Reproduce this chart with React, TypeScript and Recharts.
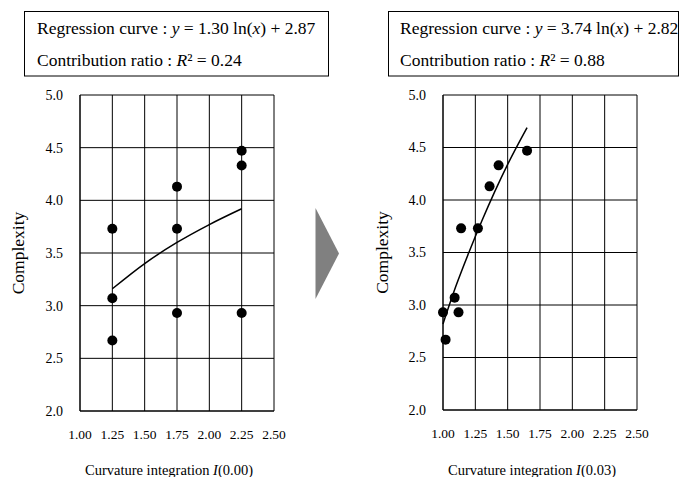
import React from "react";
import { ScatterChart, Scatter, XAxis, YAxis, CartesianGrid } from "recharts";

// left panel: I(0.00)
const leftX = [1.25, 1.25, 1.25, 1.75, 1.75, 1.75, 2.25, 2.25, 2.25];
const leftY = [3.73, 3.07, 2.67, 4.13, 3.73, 2.93, 4.47, 4.33, 2.93];
const leftCurveX = [1.25, 1.5, 1.75, 2.0, 2.25];
const leftCurveY = [3.16, 3.4, 3.6, 3.77, 3.92];

// right panel: I(0.03)
const rightX = [1.0, 1.02, 1.09, 1.12, 1.14, 1.27, 1.36, 1.43, 1.65];
const rightY = [2.93, 2.67, 3.07, 2.93, 3.73, 3.73, 4.13, 4.33, 4.47];
const rightCurveX = [1.0, 1.1, 1.2, 1.3, 1.4, 1.5, 1.65];
const rightCurveY = [2.82, 3.18, 3.5, 3.8, 4.08, 4.34, 4.69];

const xTicks = [1.0, 1.25, 1.5, 1.75, 2.0, 2.25, 2.5];
const yTicks = [2.0, 2.5, 3.0, 3.5, 4.0, 4.5, 5.0];

const FONT = "'Liberation Serif', 'Times New Roman', serif";

const zip = (xs: number[], ys: number[]) => xs.map((x, i) => ({ x, y: ys[i] }));

const Dot = (p: any) => <circle cx={p.cx} cy={p.cy} r={5} fill="#000" />;
const NoDot = () => <g />;

const YLabel = ({ viewBox, lx }: any) => {
  const cy = viewBox.y + viewBox.height / 2;
  return (
    <text x={lx} y={cy} transform={`rotate(-90 ${lx} ${cy})`} textAnchor="middle"
      dominantBaseline="central" fontSize={17.5} fontFamily={FONT} fill="#000">
      Complexity
    </text>
  );
};

const XLabel = ({ viewBox, param }: any) => {
  const cx = viewBox.x + viewBox.width / 2 - 8;
  return (
    <text x={cx} y={475} textAnchor="middle" fontSize={14.5} fontFamily={FONT} fill="#000">
      Curvature integration <tspan fontStyle="italic">I</tspan>({param})
    </text>
  );
};

function Panel({ points, curve, param, right, yWidth, xHeight, labelX }: any) {
  return (
    <ScatterChart width={340} height={477} margin={{ top: 95, right, left: 0, bottom: 0 }}>
      <CartesianGrid stroke="#000" strokeWidth={1} />
      <XAxis type="number" dataKey="x" domain={[1, 2.5]} ticks={xTicks} height={xHeight}
        tickFormatter={(v: number) => v.toFixed(2)} tickLine={false} tickSize={0} tickMargin={18}
        axisLine={{ stroke: "#000" }} interval={0}
        tick={{ fill: "#000", fontSize: 13.5, fontFamily: FONT }}
        label={<XLabel param={param} />} />
      <YAxis type="number" dataKey="y" domain={[2, 5]} ticks={yTicks} width={yWidth}
        tickFormatter={(v: number) => v.toFixed(1)} tickLine={false} tickSize={0} tickMargin={17}
        axisLine={{ stroke: "#000" }} interval={0}
        tick={{ fill: "#000", fontSize: 14, fontFamily: FONT }}
        label={<YLabel lx={labelX} />} />
      <Scatter data={points} shape={Dot} isAnimationActive={false} />
      <Scatter data={curve} shape={NoDot} line={{ stroke: "#000", strokeWidth: 1.5 }}
        lineJointType="monotoneX" isAnimationActive={false} />
    </ScatterChart>
  );
}

export default function App() {
  return (
    <div style={{ position: "absolute", left: 0, top: 0, width: 680, height: 477, background: "#fff", fontFamily: FONT }}>
      <div style={{ position: "absolute", left: 0, top: 0 }}>
        <Panel points={zip(leftX, leftY)} curve={zip(leftCurveX, leftCurveY)} param="0.00"
          right={66} yWidth={80} xHeight={66} labelX={18} />
      </div>
      <div style={{ position: "absolute", left: 340, top: 0 }}>
        <Panel points={zip(rightX, rightY)} curve={zip(rightCurveX, rightCurveY)} param="0.03"
          right={43} yWidth={103} xHeight={67} labelX={42} />
      </div>
      <svg width={680} height={477} style={{ position: "absolute", left: 0, top: 0, pointerEvents: "none" }}>
        <rect x={24.5} y={11.5} width={304} height={64.5} fill="none" stroke="#000" />
        <text x={37} y={34} fontSize={17.5} fontFamily={FONT} fill="#000">
          Regression curve : <tspan fontStyle="italic">y</tspan> = 1.30 ln(<tspan fontStyle="italic">x</tspan>) + 2.87
        </text>
        <text x={37} y={65.5} fontSize={17.5} fontFamily={FONT} fill="#000">
          Contribution ratio : <tspan fontStyle="italic">R</tspan>² = 0.24
        </text>
        <rect x={388.5} y={11.5} width={290} height={64.5} fill="none" stroke="#000" />
        <text x={400} y={34} fontSize={17.5} fontFamily={FONT} fill="#000">
          Regression curve : <tspan fontStyle="italic">y</tspan> = 3.74 ln(<tspan fontStyle="italic">x</tspan>) + 2.82
        </text>
        <text x={400} y={65.5} fontSize={17.5} fontFamily={FONT} fill="#000">
          Contribution ratio : <tspan fontStyle="italic">R</tspan>² = 0.88
        </text>
        <polygon points="315.5,208 339,253.5 315.5,299" fill="#808080" />
      </svg>
    </div>
  );
}
